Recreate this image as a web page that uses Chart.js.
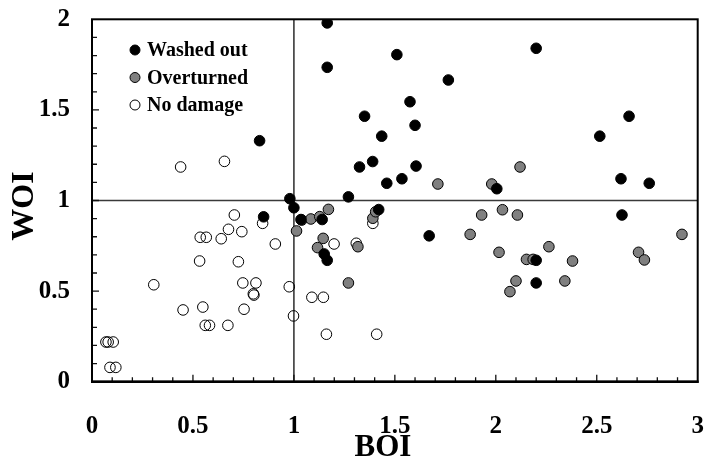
<!DOCTYPE html>
<html>
<head>
<meta charset="utf-8">
<script src="https://cdn.jsdelivr.net/npm/chart.js@4"></script>
<style>
  html, body { margin: 0; padding: 0; background: #fff; }
  #wrap { width: 704px; height: 460px; }
</style>
</head>
<body>
<div id="wrap"><canvas id="grafico" width="704" height="460"></canvas></div>
<script>
// valores (BOI no eixo x, WOI no eixo y)
const washedX = [0.83, 0.85, 0.98, 1.00, 1.035, 1.14, 1.15, 1.165, 1.165, 1.165, 1.27, 1.325, 1.35, 1.39, 1.42, 1.435, 1.46, 1.51, 1.535, 1.575, 1.60, 1.605, 1.67, 1.765, 2.005, 2.20, 2.20, 2.20, 2.515, 2.62, 2.625, 2.66, 2.76];
const washedY = [1.33, 0.91, 1.01, 0.96, 0.895, 0.895, 0.705, 0.67, 1.98, 1.735, 1.02, 1.185, 1.465, 1.215, 0.95, 1.355, 1.095, 1.805, 1.12, 1.545, 1.415, 1.19, 0.805, 1.665, 1.065, 1.84, 0.67, 0.545, 1.355, 1.12, 0.92, 1.465, 1.095];

const overturnedX = [1.013, 1.039, 1.084, 1.128, 1.171, 1.145, 1.117, 1.27, 1.317, 1.391, 1.405, 1.713, 1.873, 1.93, 1.98, 2.016, 2.033, 2.07, 2.10, 2.107, 2.12, 2.152, 2.185, 2.263, 2.342, 2.38, 2.707, 2.736, 2.922];
const overturnedY = [0.832, 0.892, 0.898, 0.911, 0.951, 0.791, 0.740, 0.545, 0.745, 0.902, 0.938, 1.091, 0.813, 0.92, 1.091, 0.714, 0.949, 0.497, 0.556, 0.92, 1.185, 0.675, 0.675, 0.745, 0.556, 0.666, 0.714, 0.672, 0.813];

const noDamageX = [0.069, 0.08, 0.105, 0.089, 0.118, 0.306, 0.439, 0.451, 0.533, 0.536, 0.549, 0.561, 0.566, 0.582, 0.64, 0.656, 0.673, 0.676, 0.705, 0.725, 0.742, 0.747, 0.753, 0.799, 0.802, 0.812, 0.845, 0.908, 0.977, 0.998, 1.089, 1.146, 1.161, 1.199, 1.309, 1.391, 1.41];
const noDamageY = [0.219, 0.219, 0.219, 0.079, 0.079, 0.535, 1.185, 0.396, 0.666, 0.797, 0.412, 0.311, 0.797, 0.311, 0.789, 1.216, 0.311, 0.841, 0.92, 0.662, 0.828, 0.545, 0.40, 0.485, 0.478, 0.545, 0.874, 0.76, 0.524, 0.363, 0.466, 0.466, 0.262, 0.76, 0.764, 0.874, 0.262];

const seriesNames = ['Washed out', 'Overturned', 'No damage'];
const xTicks = [0, 0.5, 1, 1.5, 2, 2.5, 3];
const yTicks = [0, 0.5, 1, 1.5, 2];
const xTitle = 'BOI';
const yTitle = 'WOI';

const fonte = "'Liberation Serif', 'Times New Roman', serif";

function pontos(xs, ys) {
  return xs.map((x, i) => ({ x: x, y: ys[i] }));
}

// moldura, linhas de referencia em 1, ticks para dentro, titulos e legenda
const extras = {
  id: 'extras',
  beforeDatasetsDraw(chart) {
    const { ctx, chartArea: a, scales } = chart;
    const sx = scales.x, sy = scales.y;
    ctx.save();

    // linhas x=1 e y=1
    ctx.strokeStyle = '#3a3a3a';
    ctx.lineWidth = 1.6;
    ctx.beginPath();
    const px1 = sx.getPixelForValue(1), py1 = sy.getPixelForValue(1);
    ctx.moveTo(px1, a.top); ctx.lineTo(px1, a.bottom);
    ctx.moveTo(a.left, py1); ctx.lineTo(a.right, py1);
    ctx.stroke();

    // ticks menores para dentro
    ctx.strokeStyle = '#111';
    ctx.lineWidth = 1.3;
    ctx.beginPath();
    for (let i = 1; i < 30; i++) {
      const v = i / 10;
      const len = (i % 5 === 0) ? 7 : 4.5;
      const p = sx.getPixelForValue(v);
      ctx.moveTo(p, a.bottom); ctx.lineTo(p, a.bottom - len);
    }
    for (let i = 1; i < 20; i++) {
      const v = i / 10;
      const len = (i % 5 === 0) ? 7 : 5;
      const p = sy.getPixelForValue(v);
      ctx.moveTo(a.left, p); ctx.lineTo(a.left + len, p);
    }
    ctx.stroke();

    // moldura
    ctx.strokeStyle = '#000';
    ctx.lineWidth = 2;
    ctx.strokeRect(a.left, a.top, a.right - a.left, a.bottom - a.top);
    ctx.beginPath();
    ctx.lineWidth = 2.6;
    ctx.moveTo(a.left - 1, a.bottom); ctx.lineTo(a.right + 1, a.bottom);
    ctx.stroke();
    ctx.restore();
  },
  afterDraw(chart) {
    const { ctx, chartArea: a } = chart;
    ctx.save();
    ctx.fillStyle = '#000';
    ctx.textAlign = 'center';
    ctx.textBaseline = 'middle';

    // titulos dos eixos
    ctx.font = 'bold 31px ' + fonte;
    ctx.fillText(xTitle, 383, 448);
    ctx.save();
    ctx.translate(25, 206);
    ctx.rotate(-Math.PI / 2);
    ctx.font = 'bold 32px ' + fonte;
    ctx.fillText(yTitle, 0, 0);
    ctx.restore();

    // legenda dentro da area do grafico
    ctx.textAlign = 'left';
    ctx.font = 'bold 20px ' + fonte;
    chart.data.datasets.forEach((ds, i) => {
      const cy = 50 + i * 27.5;
      ctx.beginPath();
      ctx.arc(135, cy, 5, 0, Math.PI * 2);
      ctx.fillStyle = ds.backgroundColor;
      ctx.fill();
      ctx.lineWidth = 1;
      ctx.strokeStyle = '#000';
      ctx.stroke();
      ctx.fillStyle = '#000';
      ctx.fillText(ds.label, 147, cy + 1);
    });
    ctx.restore();
  }
};

document.addEventListener('DOMContentLoaded', () => {
  const ctx = document.getElementById('grafico').getContext('2d');

  const config = {
    type: 'scatter',
    data: {
      datasets: [{
        label: seriesNames[0],
        data: pontos(washedX, washedY),
        backgroundColor: '#000000',
        borderColor: '#000000',
        borderWidth: 1,
        pointRadius: 5.3,
        order: 0
      }, {
        label: seriesNames[1],
        data: pontos(overturnedX, overturnedY),
        backgroundColor: '#808080',
        borderColor: '#000000',
        borderWidth: 1,
        pointRadius: 5.3,
        order: 1
      }, {
        label: seriesNames[2],
        data: pontos(noDamageX, noDamageY),
        backgroundColor: 'rgba(255,255,255,0)',
        borderColor: '#000000',
        borderWidth: 1,
        pointRadius: 5.3,
        order: 2
      }]
    },
    options: {
      responsive: false,
      animation: false,
      layout: { padding: { top: 19.3, right: 4, left: 0, bottom: 0 } },
      plugins: {
        legend: { display: false },
        tooltip: { enabled: false }
      },
      scales: {
        x: {
          type: 'linear',
          min: 0,
          max: 3,
          grid: { display: false, drawTicks: false },
          border: { display: false },
          afterBuildTicks: s => { s.ticks = xTicks.map(v => ({ value: v })); },
          afterFit: s => { s.height = 78.3; s.paddingLeft = 0; s.paddingRight = 0; },
          ticks: {
            padding: 30,
            maxRotation: 0,
            autoSkip: false,
            color: '#000',
            font: { family: fonte, size: 25, weight: 'bold' },
            callback: v => String(v)
          }
        },
        y: {
          type: 'linear',
          min: 0,
          max: 2,
          grid: { display: false, drawTicks: false },
          border: { display: false },
          afterBuildTicks: s => { s.ticks = yTicks.map(v => ({ value: v })); },
          afterFit: s => { s.width = 92; s.paddingTop = 0; s.paddingBottom = 0; },
          ticks: {
            padding: 22,
            autoSkip: false,
            color: '#000',
            font: { family: fonte, size: 25, weight: 'bold' },
            callback: v => String(v)
          }
        }
      }
    },
    plugins: [extras]
  };

  new Chart(ctx, config);
});
</script>
</body>
</html>
